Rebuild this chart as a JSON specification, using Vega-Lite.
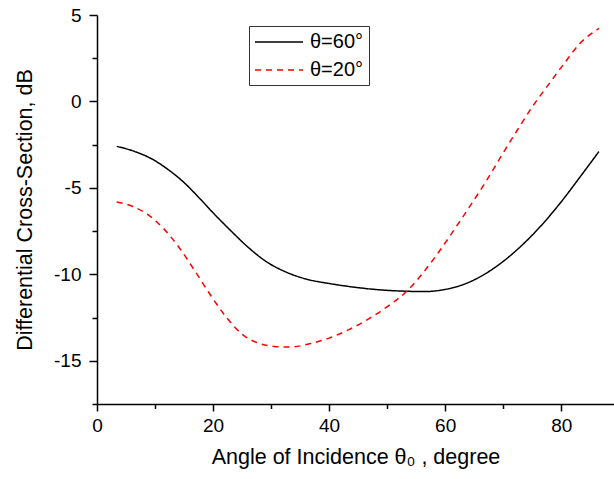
{
  "$schema": "https://vega.github.io/schema/vega-lite/v6.json",
  "autosize": "none",
  "width": 517,
  "height": 389,
  "padding": {"left": 97, "top": 15, "right": 0, "bottom": 75},
  "background": "white",
  "config": {
    "view": {"stroke": null},
    "font": "Liberation Sans",
    "axis": {
      "domainColor": "black", "domainWidth": 1.5, "tickColor": "black", "tickWidth": 1.5,
      "labelColor": "black", "titleColor": "black", "labelFontSize": 19, "titleFontSize": 21.5,
      "titleFontWeight": "normal", "grid": false, "labelFont": "Liberation Sans", "titleFont": "Liberation Sans"
    }
  },
  "data": {
    "values": [
      {"angle": 3.4, "dB": -2.6, "series": "θ=60°"},
      {"angle": 6.55, "dB": -2.9, "series": "θ=60°"},
      {"angle": 9.26, "dB": -3.29, "series": "θ=60°"},
      {"angle": 12.3, "dB": -3.95, "series": "θ=60°"},
      {"angle": 15.0, "dB": -4.69, "series": "θ=60°"},
      {"angle": 17.7, "dB": -5.61, "series": "θ=60°"},
      {"angle": 20.4, "dB": -6.58, "series": "θ=60°"},
      {"angle": 23.1, "dB": -7.49, "series": "θ=60°"},
      {"angle": 25.8, "dB": -8.36, "series": "θ=60°"},
      {"angle": 29.2, "dB": -9.27, "series": "θ=60°"},
      {"angle": 32.6, "dB": -9.87, "series": "θ=60°"},
      {"angle": 35.9, "dB": -10.26, "series": "θ=60°"},
      {"angle": 40.0, "dB": -10.53, "series": "θ=60°"},
      {"angle": 44.05, "dB": -10.73, "series": "θ=60°"},
      {"angle": 48.1, "dB": -10.88, "series": "θ=60°"},
      {"angle": 53.5, "dB": -10.98, "series": "θ=60°"},
      {"angle": 56.2, "dB": -11.0, "series": "θ=60°"},
      {"angle": 59.9, "dB": -10.88, "series": "θ=60°"},
      {"angle": 63.6, "dB": -10.53, "series": "θ=60°"},
      {"angle": 66.4, "dB": -10.07, "series": "θ=60°"},
      {"angle": 69.7, "dB": -9.33, "series": "θ=60°"},
      {"angle": 73.1, "dB": -8.36, "series": "θ=60°"},
      {"angle": 76.5, "dB": -7.2, "series": "θ=60°"},
      {"angle": 79.9, "dB": -5.85, "series": "θ=60°"},
      {"angle": 83.2, "dB": -4.39, "series": "θ=60°"},
      {"angle": 86.5, "dB": -2.9, "series": "θ=60°"},
      {"angle": 3.4, "dB": -5.81, "series": "θ=20°"},
      {"angle": 6.2, "dB": -6.08, "series": "θ=20°"},
      {"angle": 8.9, "dB": -6.58, "series": "θ=20°"},
      {"angle": 11.6, "dB": -7.4, "series": "θ=20°"},
      {"angle": 14.3, "dB": -8.52, "series": "θ=20°"},
      {"angle": 17.0, "dB": -9.87, "series": "θ=20°"},
      {"angle": 19.7, "dB": -11.27, "series": "θ=20°"},
      {"angle": 22.4, "dB": -12.53, "series": "θ=20°"},
      {"angle": 25.1, "dB": -13.49, "series": "θ=20°"},
      {"angle": 27.8, "dB": -13.98, "series": "θ=20°"},
      {"angle": 30.5, "dB": -14.17, "series": "θ=20°"},
      {"angle": 33.2, "dB": -14.21, "series": "θ=20°"},
      {"angle": 36.6, "dB": -14.02, "series": "θ=20°"},
      {"angle": 40.0, "dB": -13.69, "series": "θ=20°"},
      {"angle": 43.4, "dB": -13.2, "series": "θ=20°"},
      {"angle": 46.8, "dB": -12.58, "series": "θ=20°"},
      {"angle": 50.1, "dB": -11.85, "series": "θ=20°"},
      {"angle": 53.5, "dB": -10.94, "series": "θ=20°"},
      {"angle": 56.2, "dB": -9.91, "series": "θ=20°"},
      {"angle": 58.9, "dB": -8.71, "series": "θ=20°"},
      {"angle": 61.6, "dB": -7.4, "series": "θ=20°"},
      {"angle": 64.3, "dB": -6.04, "series": "θ=20°"},
      {"angle": 67.0, "dB": -4.65, "series": "θ=20°"},
      {"angle": 69.7, "dB": -3.14, "series": "θ=20°"},
      {"angle": 72.4, "dB": -1.68, "series": "θ=20°"},
      {"angle": 75.1, "dB": -0.27, "series": "θ=20°"},
      {"angle": 77.8, "dB": 0.97, "series": "θ=20°"},
      {"angle": 80.5, "dB": 2.19, "series": "θ=20°"},
      {"angle": 83.2, "dB": 3.35, "series": "θ=20°"},
      {"angle": 86.5, "dB": 4.22, "series": "θ=20°"}
    ]
  },
  "mark": {"type": "line", "strokeWidth": 1.5, "interpolate": "monotone", "clip": true},
  "encoding": {
    "x": {
      "field": "angle", "type": "quantitative",
      "scale": {"domain": [0, 89.1], "nice": false, "zero": false},
      "axis": {
        "title": "Angle of Incidence θ₀ , degree",
        "values": [0, 10, 20, 30, 40, 50, 60, 70, 80],
        "labelExpr": "datum.value % 20 == 0 ? toString(datum.value) : ''",
        "tickSize": {"condition": {"test": "datum.value % 20 == 0", "value": 7}, "value": 4.5},
        "labelPadding": 5,
        "titlePadding": 11,
        "labelFlush": false
      }
    },
    "y": {
      "field": "dB", "type": "quantitative",
      "scale": {"domain": [-17.5, 5], "nice": false, "zero": false},
      "axis": {
        "title": "Differential Cross-Section, dB",
        "values": [-17.5, -15, -12.5, -10, -7.5, -5, -2.5, 0, 2.5, 5],
        "labelExpr": "datum.value % 5 == 0 ? toString(datum.value) : ''",
        "tickSize": {"condition": {"test": "datum.value % 5 == 0", "value": 8}, "value": 5},
        "labelPadding": 8,
        "titlePadding": 17,
        "labelFlush": false
      }
    },
    "color": {
      "field": "series", "type": "nominal",
      "scale": {"domain": ["θ=60°", "θ=20°"], "range": ["black", "#ff0000"]},
      "legend": {
        "title": null, "orient": "none", "legendX": 152, "legendY": 11,
        "strokeColor": "#333333", "padding": 5, "symbolType": "M-1,0H3.8", "symbolSize": 400,
        "symbolStrokeWidth": 1.5, "labelFontSize": 20, "labelColor": "black", "rowPadding": 7,
        "labelFont": "Liberation Sans", "labelOffset": 34, "labelLimit": 200
      }
    },
    "strokeDash": {
      "field": "series", "type": "nominal",
      "scale": {"domain": ["θ=60°", "θ=20°"], "range": [[1, 0], [6, 5]]},
      "legend": null
    }
  }
}
